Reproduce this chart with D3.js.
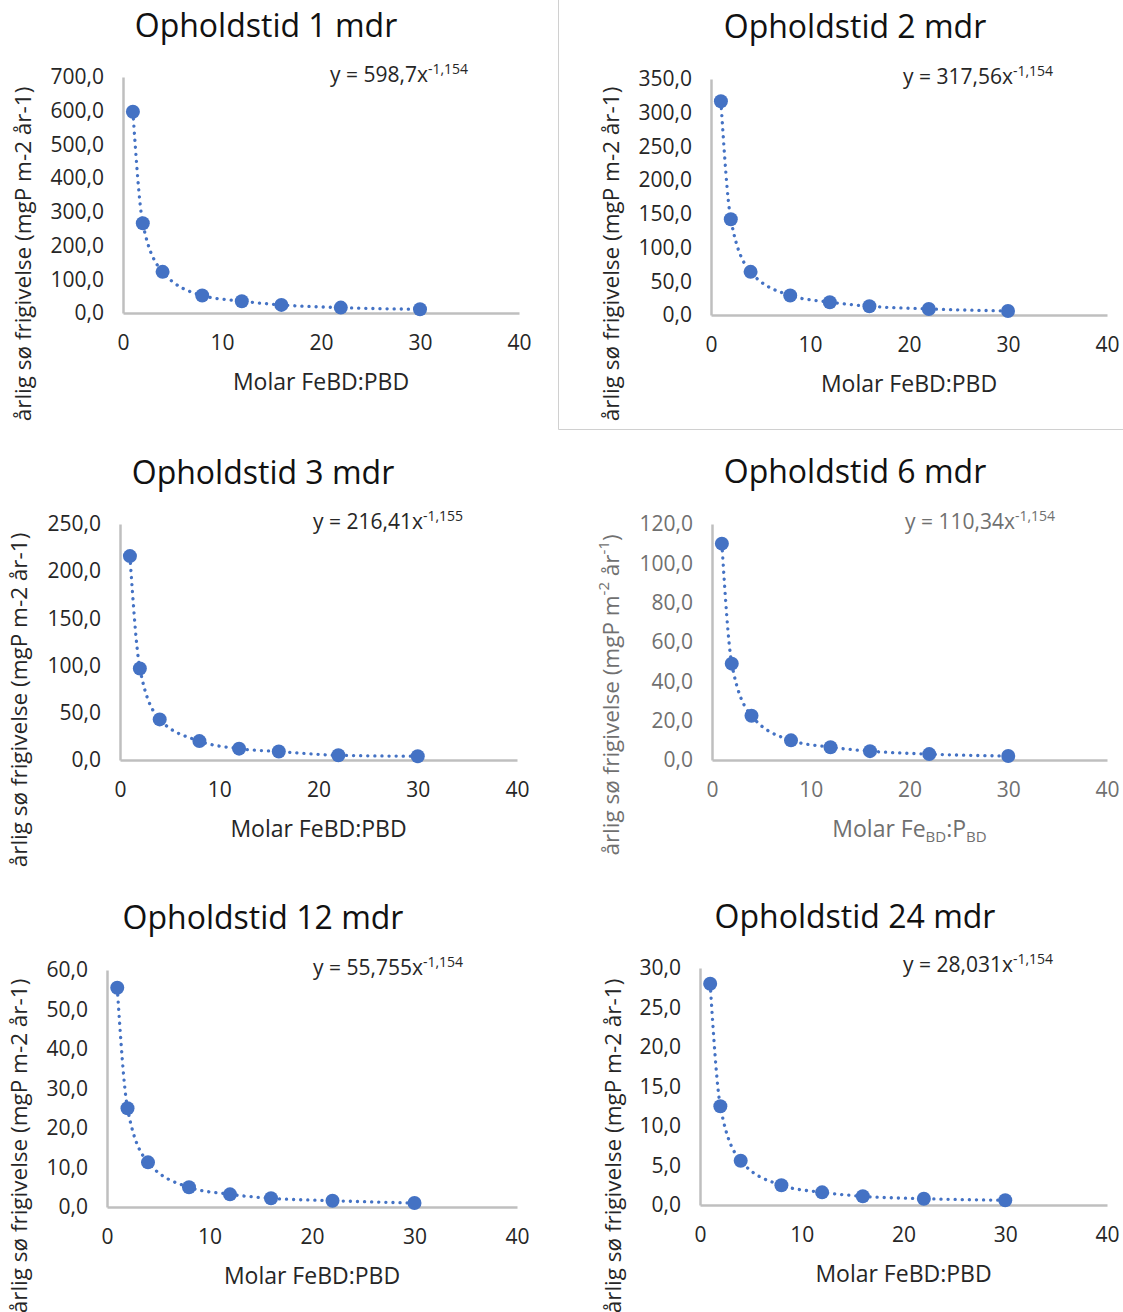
<!DOCTYPE html>
<html>
<head>
<meta charset="utf-8">
<script src="https://cdn.jsdelivr.net/npm/d3@7"></script>
<style>
  body { margin: 0; background: #fff; }
  svg { display: block; font-family: "Open Sans", sans-serif; }
</style>
</head>
<body>
<div id="chart"></div>
<script>
// molar ratio on the x axis, same for every panel
const ratio = [1, 2, 4, 8, 12, 16, 22, 30];

// yearly lake release, one list per residence time
const release1 = [597, 266, 122, 52, 35, 24, 16, 11];
const release2 = [317, 142, 64, 29, 19, 13, 9, 6];
const release3 = [216, 97, 43, 20, 12, 9, 5, 4];
const release6 = [110, 49, 22.5, 10, 6.5, 4.5, 3, 2];
const release12 = [55.5, 25, 11.3, 5, 3.2, 2.2, 1.6, 1.0];
const release24 = [28, 12.5, 5.6, 2.5, 1.6, 1.1, 0.8, 0.6];

const months = [1, 2, 3, 6, 12, 24];
const yMax = [700, 350, 250, 120, 60, 30];
const yStep = [100, 50, 50, 20, 10, 5];
const fitCoef = ["598,7", "317,56", "216,41", "110,34", "55,755", "28,031"];
const fitExp = ["-1,154", "-1,154", "-1,155", "-1,154", "-1,154", "-1,154"];
const xTicks = [0, 10, 20, 30, 40];

const series = [release1, release2, release3, release6, release12, release24];

const W = 1123, H = 1312;
const blue = "#4472C4";
const fmt = d3.formatLocale({decimal: ",", thousands: ".", grouping: [3], currency: ["", ""]}).format(".1f");

// plot boxes
const layout = [
  {x0: 123, x1: 519, top: 77,  bot: 313,  tx: 266, ty: 37,  ytx: 22,  yty: 254,  ex: 330, ey: 82},
  {x0: 711, x1: 1107, top: 79, bot: 315,  tx: 855, ty: 38,  ytx: 610, yty: 254,  ex: 903, ey: 84},
  {x0: 120, x1: 517, top: 524, bot: 760,  tx: 263, ty: 484, ytx: 18,  yty: 700,  ex: 313, ey: 529},
  {x0: 712, x1: 1107, top: 524, bot: 760, tx: 855, ty: 483, ytx: 610, yty: 695,  ex: 905, ey: 529},
  {x0: 107, x1: 517, top: 970, bot: 1207, tx: 263, ty: 929, ytx: 18,  yty: 1146, ex: 313, ey: 975},
  {x0: 700, x1: 1107, top: 968, bot: 1205, tx: 855, ty: 928, ytx: 612, yty: 1146, ex: 903, ey: 972}
];

const svg = d3.select("#chart").append("svg")
  .attr("width", W)
  .attr("height", H);

// border of the second chart object
svg.append("path")
  .attr("d", "M558.5,0V429.5H1123")
  .attr("fill", "none")
  .attr("stroke", "#d0d0d0")
  .attr("stroke-width", 1);

months.forEach((m, i) => {
  const L = layout[i];
  const grey = i === 3;
  const txtCol = grey ? "#707070" : "#262626";
  const titleCol = "#111";

  const x = d3.scaleLinear().domain([0, 40]).range([L.x0, L.x1]);
  const y = d3.scaleLinear().domain([0, yMax[i]]).range([L.bot, L.top]);

  const g = svg.append("g");

  // title
  g.append("text")
    .attr("x", L.tx).attr("y", L.ty)
    .attr("text-anchor", "middle")
    .attr("font-size", 32)
    .attr("fill", titleCol)
    .text(`Opholdstid ${m} mdr`);

  // y axis
  const ya = g.append("g")
    .attr("transform", `translate(${L.x0},0)`)
    .call(d3.axisLeft(y).tickValues(d3.range(0, yMax[i] + 1e-9, yStep[i])).tickFormat(fmt).tickSize(0).tickPadding(19));
  ya.select(".domain").attr("stroke", "#bfbfbf").attr("stroke-width", 2.5);
  ya.selectAll("text").attr("font-size", 21).attr("fill", txtCol).attr("font-family", "Open Sans");

  // x axis
  const xa = g.append("g")
    .attr("transform", `translate(0,${L.bot})`)
    .call(d3.axisBottom(x).tickValues(xTicks).tickSize(0).tickPadding(22));
  xa.select(".domain").attr("stroke", "#bfbfbf").attr("stroke-width", 2.5);
  xa.selectAll("text").attr("font-size", 21).attr("fill", txtCol).attr("font-family", "Open Sans");

  // x title
  const xt = g.append("text")
    .attr("x", (L.x0 + L.x1) / 2)
    .attr("y", L.bot + 77)
    .attr("text-anchor", "middle")
    .attr("font-size", 23)
    .attr("fill", txtCol);
  if (grey) {
    xt.append("tspan").text("Molar Fe");
    xt.append("tspan").attr("font-size", 15).attr("dy", 5).text("BD");
    xt.append("tspan").attr("dy", -5).text(":P");
    xt.append("tspan").attr("font-size", 15).attr("dy", 5).text("BD");
  } else {
    xt.text("Molar FeBD:PBD");
  }

  // y title
  const yt = g.append("text")
    .attr("transform", `translate(${L.ytx},${L.yty}) rotate(-90)`)
    .attr("text-anchor", "middle")
    .attr("dominant-baseline", "central")
    .attr("font-size", 22.5)
    .attr("fill", txtCol);
  if (grey) {
    yt.append("tspan").text("årlig sø frigivelse (mgP m");
    yt.append("tspan").attr("font-size", 15).attr("dy", -7).text("-2");
    yt.append("tspan").attr("dy", 7).text(" år");
    yt.append("tspan").attr("font-size", 15).attr("dy", -7).text("-1");
    yt.append("tspan").attr("dy", 7).text(")");
  } else {
    yt.text("årlig sø frigivelse (mgP m-2 år-1)");
  }

  // trend equation
  const eq = g.append("text")
    .attr("x", L.ex).attr("y", L.ey)
    .attr("font-size", 21)
    .attr("fill", txtCol);
  eq.append("tspan").text(`y = ${fitCoef[i]}x`);
  eq.append("tspan").attr("font-size", 14).attr("dy", -8).text(fitExp[i]);

  const pts = ratio.map((r, k) => [r, series[i][k]]);

  // dotted trend line
  g.append("path")
    .datum(pts)
    .attr("fill", "none")
    .attr("stroke", blue)
    .attr("stroke-width", 3.3)
    .attr("stroke-linecap", "round")
    .attr("stroke-dasharray", "0.1 7")
    .attr("d", d3.line().x(d => x(d[0])).y(d => y(d[1])).curve(d3.curveMonotoneX));

  // markers
  g.selectAll("circle.pt")
    .data(pts)
    .join("circle")
    .attr("class", "pt")
    .attr("cx", d => x(d[0]))
    .attr("cy", d => y(d[1]))
    .attr("r", 7)
    .attr("fill", blue);
});
</script>
</body>
</html>
